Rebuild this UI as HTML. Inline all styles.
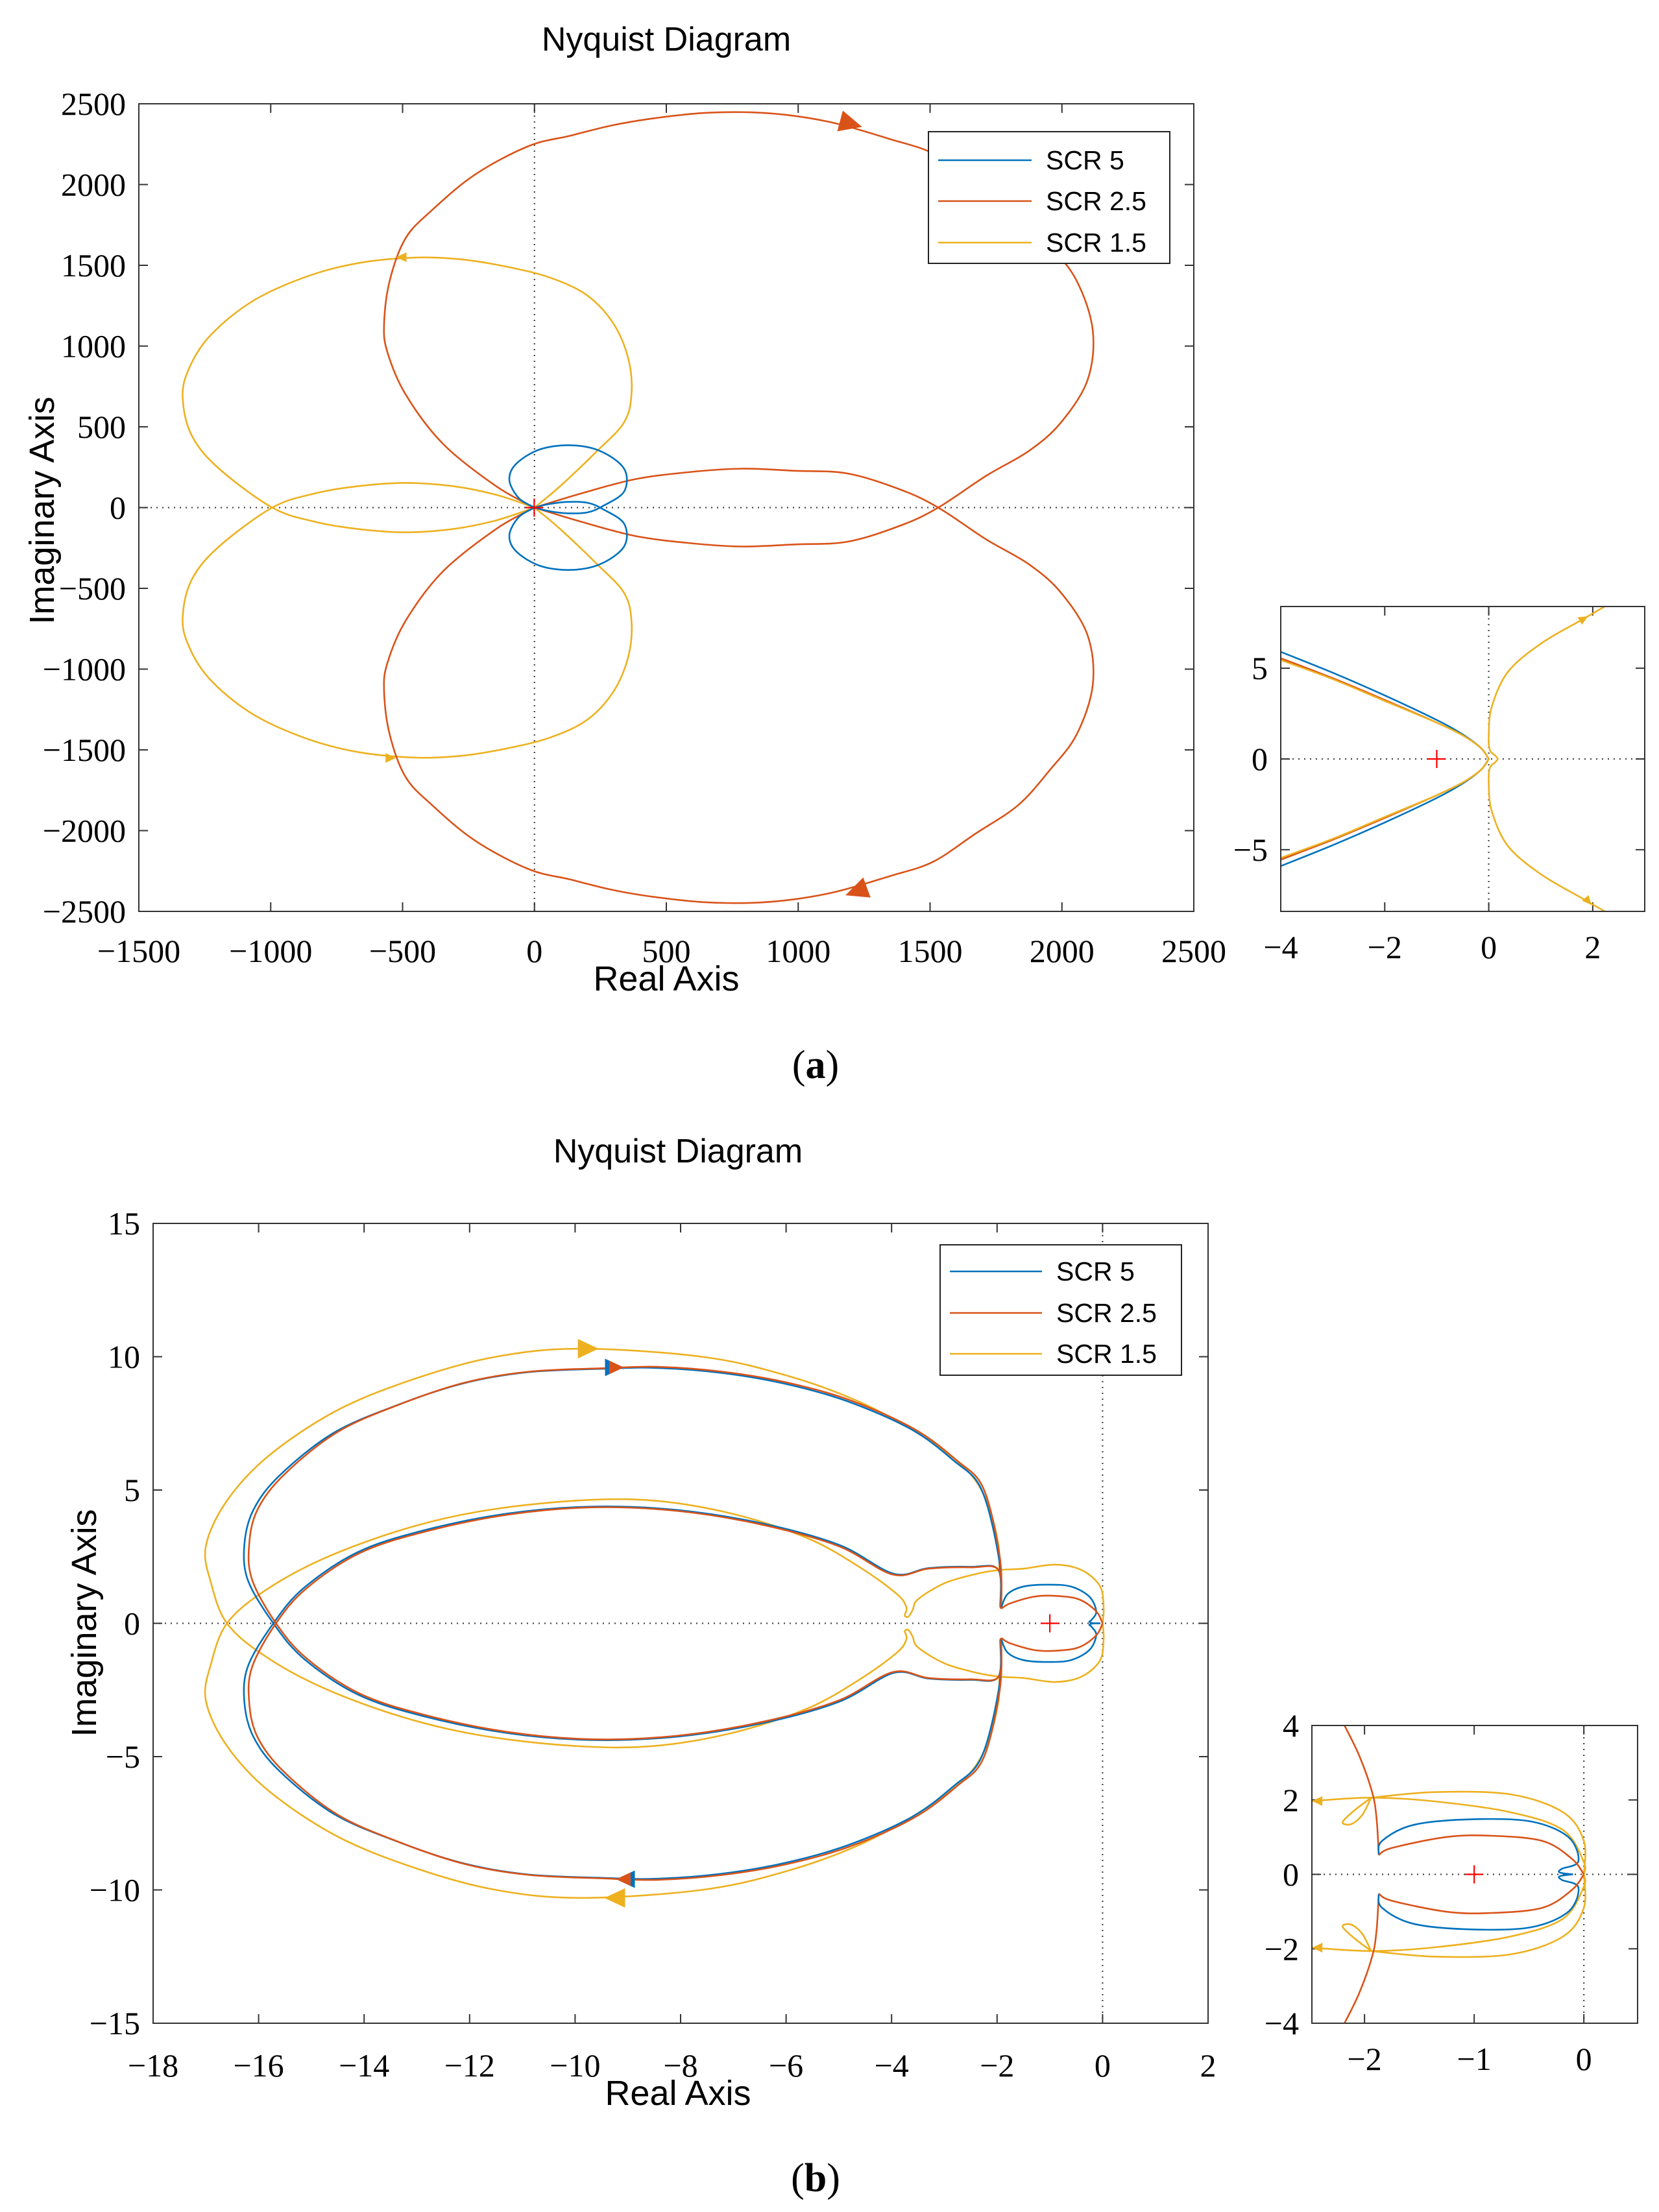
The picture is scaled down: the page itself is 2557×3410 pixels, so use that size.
<!DOCTYPE html>
<html><head><meta charset="utf-8">
<style>
html,body{margin:0;padding:0;background:#fff;}
svg{display:block;}
</style></head>
<body>
<svg id="fig" width="2557" height="3410" viewBox="0 0 2557 3410" xmlns="http://www.w3.org/2000/svg">
<rect x="0" y="0" width="2557" height="3410" fill="#fff"/>
<text x="1027" y="78" font-family="Liberation Sans, sans-serif" font-size="52" text-anchor="middle">Nyquist Diagram</text>
<text x="1027" y="1527" font-family="Liberation Sans, sans-serif" font-size="54" text-anchor="middle">Real Axis</text>
<text x="0" y="0" transform="translate(83,787) rotate(-90)" font-family="Liberation Sans, sans-serif" font-size="54" text-anchor="middle">Imaginary Axis</text>
<text x="1257" y="1662" font-family="Liberation Serif, serif" font-size="62" text-anchor="middle">(<tspan font-weight="bold">a</tspan>)</text>
<text x="1045" y="1792" font-family="Liberation Sans, sans-serif" font-size="52" text-anchor="middle">Nyquist Diagram</text>
<text x="1045" y="3245" font-family="Liberation Sans, sans-serif" font-size="54" text-anchor="middle">Real Axis</text>
<text x="0" y="0" transform="translate(148,2502) rotate(-90)" font-family="Liberation Sans, sans-serif" font-size="54" text-anchor="middle">Imaginary Axis</text>
<text x="1257" y="3378" font-family="Liberation Serif, serif" font-size="62" text-anchor="middle">(<tspan font-weight="bold">b</tspan>)</text>
</svg>
<script>
// ---------- Panel (a) main: upper halves (lower halves are mirrored) ----------
const aOrangeX=[0,-145,-347,-489,-558,-570,-549,-489,-388,-226,-24,137,299,461,642,824,986,1147,1349,1511,1673,1834,1955,2056,2117,2097,1996,1875,1713,1531,1390,1188,986,784,582,380,178,0];
const aOrangeY=[0,132,395,702,965,1140,1404,1667,1842,2061,2237,2303,2368,2412,2443,2447,2425,2377,2281,2193,2018,1842,1623,1404,1097,789,526,351,197,0,-110,-211,-228,-241,-219,-175,-88,0];
const aYellowX=[0,97,238,339,368,356,299,198,57,-105,-267,-448,-671,-873,-1075,-1236,-1317,-1333,-1297,-1196,-994,-832,-671,-489,-307,-145,0];
const aYellowY=[0,132,351,526,702,921,1140,1316,1425,1491,1535,1548,1513,1425,1272,1053,833,658,439,241,0,-88,-132,-153,-132,-79,0];
const aBlueX=[0,-60,-95,-70,20,137,250,340,340,260,200,120,50,0];
const aBlueY=[0,60,170,270,360,386,350,240,100,10,-30,-35,-20,0];
const aXTicks=[-1500,-1000,-500,0,500,1000,1500,2000,2500];
const aYTicks=[-2500,-2000,-1500,-1000,-500,0,500,1000,1500,2000,2500];
const aArrowX=[1190,1230,-500,-550];
const aArrowY=[2380,-2370,1550,-1550];
const aArrowAng=[15,160,180,0];
// ---------- Panel (a) inset ----------
const aiBlueX=[-4,-3,-2,-1,-0.5,-0.15,0];
const aiBlueY=[5.9,4.75,3.5,2.15,1.35,0.6,0];
const aiOrangeX=[-4,-3,-2,-1,-0.5,-0.15,0];
const aiOrangeY=[5.55,4.45,3.25,2.0,1.3,0.6,0];
const aiYellowX=[-4,-3,-2,-1,-0.5,-0.15,0];
const aiYellowY=[5.45,4.4,3.2,2.0,1.3,0.6,0];
const aiYellowRX=[0.18,0.12,0.02,0.0,0.06,0.37,1.0,1.81,2.2,2.6];
const aiYellowRY=[0,0.2,0.5,1.35,2.9,4.8,6.35,7.7,8.35,9];
const aiXTicks=[-4,-2,0,2];
const aiYTicks=[-5,0,5];
// ---------- Panel (b) main ----------
const bOrangeX=[-1.92,-1.95,-2.26,-2.77,-3.58,-4.79,-6.0,-7.22,-8.43,-9.44,-10.86,-12.07,-13.29,-14.5,-15.51,-16.02,-16.18,-16.12,-15.67,-15.1,-14.1,-12.88,-11.26,-9.65,-8.03,-6.41,-5.0,-3.98,-3.3,-2.5,-1.97,-1.93];
const bOrangeY=[0.55,2.5,5.06,6.12,7.3,8.37,9.04,9.44,9.62,9.57,9.44,9.04,8.24,7.18,5.59,4.27,2.94,1.62,0,-1.3,-2.62,-3.42,-4.08,-4.35,-4.21,-3.68,-2.89,-1.83,-2.05,-2.1,-2.0,-0.55];
const bBlueX=[-1.92,-1.97,-2.3,-2.82,-3.63,-4.84,-6.05,-7.25,-8.45,-9.45,-10.9,-12.12,-13.35,-14.58,-15.6,-16.1,-16.27,-16.2,-15.72,-15.14,-14.13,-12.9,-11.27,-9.65,-8.02,-6.39,-4.98,-3.96,-3.3,-2.5,-1.98,-1.94];
const bBlueY=[0.6,2.5,5.04,6.1,7.28,8.33,9.0,9.4,9.58,9.55,9.42,9.0,8.2,7.14,5.55,4.25,2.94,1.6,0,-1.33,-2.66,-3.47,-4.12,-4.38,-4.24,-3.72,-2.93,-1.86,-2.07,-2.12,-2.02,-0.6];
const bBlueSmX=[-1.92,-1.8,-1.5,-1.05,-0.6,-0.25,-0.12,-0.2,-0.25,-0.15,-0.05];
const bBlueSmY=[0.6,1.1,1.38,1.45,1.38,1.0,0.45,0.15,0.05,0,0];
const bOrangeSmX=[-1.92,-1.75,-1.3,-0.9,-0.45,-0.12,0];
const bOrangeSmY=[0.55,0.75,1.0,1.03,0.9,0.45,0];
const bYellowX=[-1.96,-1.98,-2.2,-2.6,-3.4,-4.6,-6,-7.6,-9.9,-11.5,-13,-14.5,-15.8,-16.6,-17.0,-16.9,-16.6,-15.9,-14.8,-13.3,-11.8,-10,-8.5,-7,-5.6,-4.6,-3.9,-3.72,-3.75,-3.68,-3.6,-3.5,-3.0,-2.4,-1.96,-1.5,-0.9,-0.4,-0.05,0.02,0];
const bYellowY=[2.0,3.0,4.6,5.8,7.0,8.3,9.3,10.0,10.3,10.0,9.2,8.0,6.3,4.6,2.9,1.5,0,-1.2,-2.4,-3.5,-4.2,-4.6,-4.6,-4.1,-3.2,-2.1,-1.1,-0.6,-0.3,-0.25,-0.5,-0.9,-1.5,-1.85,-2.0,-2.05,-2.2,-2.0,-1.4,-0.6,0];
const bXTicks=[-18,-16,-14,-12,-10,-8,-6,-4,-2,0,2];
const bYTicks=[-15,-10,-5,0,5,10,15];
const bArrowX=[-9.8,-9.2,-9.3,-9.0];
const bArrowY=[10.3,-10.3,9.6,-9.6];
const bArrowAng=[0,180,0,180];
// ---------- Panel (b) inset ----------
const biVertX=[-2.2,-2.05,-1.93,-1.89,-1.87];
const biVertY=[4.1,3.2,2.2,1.5,0.52];
const biBlueX=[-1.87,-1.84,-1.55,-1.01,-0.48,-0.14,-0.05,-0.2,-0.22,-0.1];
const biBlueY=[0.52,0.9,1.33,1.48,1.42,1.0,0.35,0.15,0.05,0];
const biOrangeX=[-1.87,-1.75,-1.26,-0.87,-0.38,-0.11,0];
const biOrangeY=[0.52,0.71,1.0,1.04,0.9,0.42,0];
const biYellowX=[-2.48,-1.94,-1.36,-0.67,-0.19,0,0];
const biYellowY=[1.97,2.06,1.96,1.67,1.19,0.33,0];
const biYellow2X=[-1.94,-1.36,-0.67,-0.19,0,0];
const biYellow2Y=[2.06,2.21,2.15,1.67,0.9,0];
const biLoopX=[-1.94,-2.1,-2.2,-2.12,-2.02,-1.94];
const biLoopY=[2.06,1.7,1.4,1.35,1.6,2.06];
const biXTicks=[-2,-1,0];
const biYTicks=[-4,-2,0,2,4];

const NS="http://www.w3.org/2000/svg";
const svg=document.getElementById('fig');
const C={blue:'#0072BD',orange:'#D95319',yellow:'#EDB120'};
function mk(tag,attrs,parent){const e=document.createElementNS(NS,tag);for(const k in attrs)e.setAttribute(k,attrs[k]);(parent||svg).appendChild(e);return e;}
function fmt(v){return v<0?'\u2212'+Math.abs(v):String(v);}
let clipId=0;
function axes(box,xd,yd,xt,yt,name,xlabOff){
  const sx=v=>box.x0+(v-xd[0])/(xd[1]-xd[0])*(box.x1-box.x0);
  const sy=v=>box.y1-(v-yd[0])/(yd[1]-yd[0])*(box.y1-box.y0);
  const g=mk('g',{});
  
  
  const id='clip'+(clipId++);
  const cp=mk('clipPath',{id:id},g);mk('rect',{x:box.x0,y:box.y0,width:box.x1-box.x0,height:box.y1-box.y0},cp);
  if(xd[0]<0&&xd[1]>0){const l=mk('line',{x1:sx(0),x2:sx(0),y1:box.y0,y2:box.y1,stroke:'#444','stroke-width':2.2,'stroke-dasharray':'2 7'},g);
    }
  if(yd[0]<0&&yd[1]>0){const l=mk('line',{x1:box.x0,x2:box.x1,y1:sy(0),y2:sy(0),stroke:'#444','stroke-width':2.2,'stroke-dasharray':'2 7'},g);
    }
  const tl=14;
  xt.forEach(v=>{const X=sx(v);
    mk('line',{x1:X,x2:X,y1:box.y1,y2:box.y1-tl,stroke:'#333','stroke-width':2},g);
    mk('line',{x1:X,x2:X,y1:box.y0,y2:box.y0+tl,stroke:'#333','stroke-width':2},g);
    const t=mk('text',{x:X,y:box.y1+xlabOff,'font-family':'Liberation Serif, serif','font-size':50,'text-anchor':'middle'},g);t.textContent=fmt(v);
    });
  yt.forEach(v=>{const Y=sy(v);
    mk('line',{x1:box.x0,x2:box.x0+tl,y1:Y,y2:Y,stroke:'#333','stroke-width':2},g);
    mk('line',{x1:box.x1,x2:box.x1-tl,y1:Y,y2:Y,stroke:'#333','stroke-width':2},g);
    const t=mk('text',{x:box.x0-20,y:Y+17,'font-family':'Liberation Serif, serif','font-size':50,'text-anchor':'end'},g);t.textContent=fmt(v);
    });
  const plot=mk('g',{'clip-path':'url(#'+id+')'},g);
  
  
  const frame=mk('rect',{x:box.x0,y:box.y0,width:box.x1-box.x0,height:box.y1-box.y0,fill:'none',stroke:'#333','stroke-width':2},g);
  
  return {sx,sy,plot,g};
}
function smoothPath(P){
  let d='M'+P[0][0].toFixed(1)+' '+P[0][1].toFixed(1);
  for(let i=0;i<P.length-1;i++){
    const p0=P[i-1]||P[i],p1=P[i],p2=P[i+1],p3=P[i+2]||P[i+1];
    const c1=[p1[0]+(p2[0]-p0[0])/6,p1[1]+(p2[1]-p0[1])/6];
    const c2=[p2[0]-(p3[0]-p1[0])/6,p2[1]-(p3[1]-p1[1])/6];
    d+=` C${c1[0].toFixed(1)} ${c1[1].toFixed(1)} ${c2[0].toFixed(1)} ${c2[1].toFixed(1)} ${p2[0].toFixed(1)} ${p2[1].toFixed(1)}`;
  }
  return d;
}
function curve(ax,xs,ys,color,name,mirror){
  [1,mirror?-1:null].forEach(s=>{ if(s===null)return;
    const P=xs.map((x,i)=>[ax.sx(x),ax.sy(s*ys[i])]);
    const p=mk('path',{d:smoothPath(P),fill:'none',stroke:color,'stroke-width':2.6,'stroke-linejoin':'round'},ax.plot);
    
    
  });
}
function arrow(ax,x,y,ang,size,color,name){
  const X=ax.sx(x),Y=ax.sy(y);
  const p=mk('polygon',{points:`${size},0 ${-size*0.6},${-size*0.75} ${-size*0.6},${size*0.75}`,fill:color,transform:`translate(${X},${Y}) rotate(${ang})`},ax.plot);
  
  
}
function crossMark(ax,name){
  const X=ax.sx(-1),Y=ax.sy(0);
  const p=mk('path',{d:`M${X-14} ${Y}H${X+14}M${X} ${Y-14}V${Y+14}`,stroke:'#ff0000','stroke-width':2.2},ax.plot);
  
  
}
function legend(x0,y0,x1,y1,rows,lx0,lx1,tx,name){
  const g=mk('g',{});
  
  
  mk('rect',{x:x0,y:y0,width:x1-x0,height:y1-y0,fill:'#fff',stroke:'#222','stroke-width':2},g);
  [['SCR 5',C.blue],['SCR 2.5',C.orange],['SCR 1.5',C.yellow]].forEach((r,i)=>{
    const e=mk('g',{},g);
    
    
    mk('line',{x1:lx0,x2:lx1,y1:rows[i],y2:rows[i],stroke:r[1],'stroke-width':2.6},e);
    const t=mk('text',{x:tx,y:rows[i]+14,'font-family':'Liberation Sans, sans-serif','font-size':41},e);t.textContent=r[0];
  });
}

// Panel (a) main
const A=axes({x0:214,y0:160,x1:1840,y1:1405},[-1500,2500],[-2500,2500],aXTicks,aYTicks,'panel-a',78);
curve(A,aYellowX,aYellowY,C.yellow,'curve-a-scr-1-5',true);
curve(A,aOrangeX,aOrangeY,C.orange,'curve-a-scr-2-5',true);
curve(A,aBlueX,aBlueY,C.blue,'curve-a-scr-5',true);
crossMark(A,'critical-point-a');
arrow(A,aArrowX[0],aArrowY[0],aArrowAng[0],22,C.orange,'arrow-a-orange-top');
arrow(A,aArrowX[1],aArrowY[1],aArrowAng[1],22,C.orange,'arrow-a-orange-bottom');
arrow(A,aArrowX[2],aArrowY[2],aArrowAng[2],10,C.yellow,'arrow-a-yellow-top');
arrow(A,aArrowX[3],aArrowY[3],aArrowAng[3],10,C.yellow,'arrow-a-yellow-bottom');
legend(1431,203,1803,406,[247,310,374],1446,1590,1612,'legend-a');

// Panel (a) inset
const AI=axes({x0:1974,y0:935,x1:2535,y1:1405},[-4,3],[-8.4,8.4],aiXTicks,aiYTicks,'inset-a',72);
curve(AI,aiBlueX,aiBlueY,C.blue,'inset-a-scr-5',true);
curve(AI,aiOrangeX,aiOrangeY,C.orange,'inset-a-scr-2-5',true);
curve(AI,aiYellowX,aiYellowY,C.yellow,'inset-a-scr-1-5-left',true);
curve(AI,aiYellowRX,aiYellowRY,C.yellow,'inset-a-scr-1-5-right',true);
crossMark(AI,'critical-point-inset-a');
arrow(AI,1.81,7.7,-30,9,C.yellow,'arrow-inset-a-top');
arrow(AI,1.9,-7.8,50,9,C.yellow,'arrow-inset-a-bottom');

// Panel (b) main
const B=axes({x0:236,y0:1886,x1:1862,y1:3119},[-18,2],[-15,15],bXTicks,bYTicks,'panel-b',82);
curve(B,bYellowX,bYellowY,C.yellow,'curve-b-scr-1-5',true);
curve(B,bBlueX,bBlueY,C.blue,'curve-b-scr-5',true);
curve(B,bOrangeX,bOrangeY,C.orange,'curve-b-scr-2-5',true);
curve(B,bBlueSmX,bBlueSmY,C.blue,'curve-b-scr-5-small',true);
curve(B,bOrangeSmX,bOrangeSmY,C.orange,'curve-b-scr-2-5-small',true);
crossMark(B,'critical-point-b');
arrow(B,bArrowX[0],bArrowY[0],bArrowAng[0],20,C.yellow,'arrow-b-yellow-top');
arrow(B,bArrowX[1],bArrowY[1],bArrowAng[1],20,C.yellow,'arrow-b-yellow-bottom');
arrow(B,bArrowX[2],bArrowY[2],bArrowAng[2],18,C.blue,'arrow-b-blue-top');
arrow(B,bArrowX[3],bArrowY[3],bArrowAng[3],18,C.blue,'arrow-b-blue-bottom');
arrow(B,bArrowX[2]+0.05,bArrowY[2],bArrowAng[2],14,C.orange,'arrow-b-orange-top');
arrow(B,bArrowX[3]-0.05,bArrowY[3],bArrowAng[3],14,C.orange,'arrow-b-orange-bottom');
legend(1449,1919,1821,2120,[1960,2024,2087],1464,1606,1628,'legend-b');

// Panel (b) inset
const BI=axes({x0:2022,y0:2660,x1:2524,y1:3119},[-2.48,0.49],[-4,4],biXTicks,biYTicks,'inset-b',72);
curve(BI,biYellowX,biYellowY,C.yellow,'inset-b-scr-1-5',true);
curve(BI,biYellow2X,biYellow2Y,C.yellow,'inset-b-scr-1-5-outer',true);
curve(BI,biLoopX,biLoopY,C.yellow,'inset-b-scr-1-5-loop',true);
curve(BI,biVertX,biVertY,C.orange,'inset-b-branch',true);
curve(BI,biBlueX,biBlueY,C.blue,'inset-b-scr-5',true);
curve(BI,biOrangeX,biOrangeY,C.orange,'inset-b-scr-2-5',true);
crossMark(BI,'critical-point-inset-b');
arrow(BI,-2.42,1.97,180,10,C.yellow,'arrow-inset-b-top');
arrow(BI,-2.42,-1.97,180,10,C.yellow,'arrow-inset-b-bottom');
</script>
</body></html>
